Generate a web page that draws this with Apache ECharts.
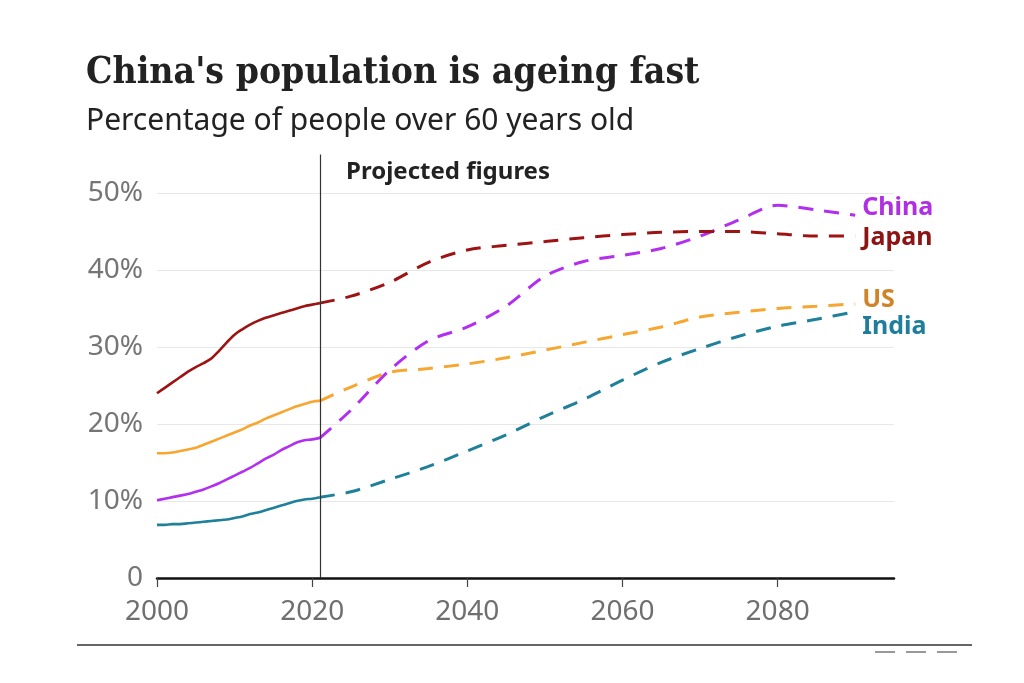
<!DOCTYPE html>
<html>
<head>
<meta charset="utf-8">
<script src="https://cdn.jsdelivr.net/npm/echarts@6/dist/echarts.min.js"></script>
<style>
html,body{margin:0;padding:0;background:#fff;}
#chart{width:1024px;height:683px;}
</style>
</head>
<body>
<div id="chart"></div>
<script>
// ---- data ----
const histYears = [2000,2001,2002,2003,2004,2005,2006,2007,2008,2009,2010,2011,2012,2013,2014,2015,2016,2017,2018,2019,2020,2021];
const chinaHist = [10.1,10.3,10.5,10.7,10.9,11.2,11.5,11.9,12.3,12.8,13.3,13.8,14.3,14.9,15.5,16.0,16.6,17.1,17.6,17.9,18.0,18.2];
const japanHist = [24.0,24.7,25.4,26.1,26.8,27.4,27.9,28.5,29.5,30.6,31.6,32.3,32.9,33.4,33.8,34.1,34.4,34.7,35.0,35.3,35.5,35.7];
const usHist    = [16.2,16.2,16.3,16.5,16.7,16.9,17.3,17.7,18.1,18.5,18.9,19.3,19.8,20.2,20.7,21.1,21.5,21.9,22.3,22.6,22.9,23.0];
const indiaHist = [6.9,6.9,7.0,7.0,7.1,7.2,7.3,7.4,7.5,7.6,7.8,8.0,8.3,8.5,8.8,9.1,9.4,9.7,10.0,10.2,10.3,10.5];

const projYears = [2021,2025,2030,2035,2040,2045,2050,2055,2060,2065,2070,2075,2080,2085,2090];
const chinaProj = [18.2,21.8,27.0,30.8,32.6,35.3,39.2,41.1,41.9,42.8,44.4,46.5,48.4,47.8,47.1];
const japanProj = [35.7,36.6,38.4,41.0,42.6,43.2,43.7,44.2,44.6,44.9,45.0,45.0,44.7,44.4,44.4];
const usProj    = [23.0,24.8,26.7,27.2,27.8,28.6,29.6,30.6,31.6,32.6,33.9,34.5,35.0,35.3,35.6];
const indiaProj = [10.5,11.2,12.8,14.5,16.5,18.6,21.0,23.2,25.7,28.0,29.8,31.4,32.7,33.6,34.6];

const xTicks = [2000,2020,2040,2060,2080];
const yTicks = [0,10,20,30,40,50];
const projectionStart = 2021;

const countries = ['China','Japan','US','India'];
// ---- styles ----
const lineColors  = {China:'#b22ff0', Japan:'#9d1313', US:'#f7a630', India:'#1f8099'};
const labelColors = {China:'#b02fe2', Japan:'#8c1414', US:'#d08428', India:'#1e7e9c'};
const labelOffsets = {China:[0,-7], Japan:[0,2], US:[0,-4], India:[0,15]};

const hist = {China:chinaHist, Japan:japanHist, US:usHist, India:indiaHist};
const proj = {China:chinaProj, Japan:japanProj, US:usProj, India:indiaProj};
const pairs = (xs, ys) => xs.map((x,i)=>[x, ys[i]]);

const series = [];
countries.forEach(c => {
  series.push({
    type:'line', name:c, data:pairs(histYears, hist[c]), smooth:0.3,
    symbol:'none', lineStyle:{color:lineColors[c], width:2.6}, z:3
  });
});
countries.forEach(c => {
  series.push({
    type:'line', name:c+' projected', data:pairs(projYears, proj[c]), smooth:0.3,
    symbol:'none', lineStyle:{color:lineColors[c], width:3, type:[15,11]}, z:3,
    endLabel:{show:true, formatter:c, color:labelColors[c], fontFamily:'Noto Sans',
      fontWeight:'bold', fontSize:25, distance:7, offset:labelOffsets[c]}
  });
});
series[0].markLine = {
  silent:true, symbol:'none', label:{show:false},
  lineStyle:{color:'#333', width:1.2, type:'solid'},
  data:[{xAxis:projectionStart}]
};

const chart = echarts.init(document.getElementById('chart'), null, {renderer:'canvas'});
chart.setOption({
  animation:false,
  backgroundColor:'#ffffff',
  title:[
    {text:"China's population is ageing fast", left:81, top:50,
     textStyle:{fontFamily:'DejaVu Serif Condensed, DejaVu Serif', fontWeight:'bold', fontSize:37, color:'#222'}},
    {text:'Percentage of people over 60 years old', left:81, top:101,
     textStyle:{fontFamily:'Noto Sans', fontWeight:'normal', fontSize:30, color:'#222'}},
    {text:'Projected figures', left:341, top:155,
     textStyle:{fontFamily:'Noto Sans', fontWeight:'bold', fontSize:24, color:'#222'}}
  ],
  grid:{left:157, right:130, top:154.5, bottom:105, containLabel:false},
  xAxis:{
    type:'value', min:2000, max:2095,
    axisLine:{show:true, lineStyle:{color:'#111', width:2.5}},
    axisTick:{show:true, customValues:xTicks, length:9, lineStyle:{color:'#444', width:1.2}},
    axisLabel:{customValues:xTicks, color:'#6f6f6f', fontFamily:'Noto Sans', fontSize:28, margin:20,
      formatter:v=>String(v)},
    splitLine:{show:false}
  },
  yAxis:{
    type:'value', min:0, max:55, interval:10,
    axisLine:{show:false}, axisTick:{show:false},
    axisLabel:{customValues:yTicks, color:'#757575', fontFamily:'Noto Sans', fontSize:28, margin:14,
      formatter:v=> v===0 ? '0' : v+'%'},
    splitLine:{show:true, showMaxLine:false, lineStyle:{color:'#e8e8e8', width:1.2}}
  },
  graphic:[
    {type:'line', shape:{x1:77, y1:645, x2:972, y2:645}, style:{stroke:'#666', lineWidth:2}},
    {type:'line', shape:{x1:875, y1:652, x2:895, y2:652}, style:{stroke:'#777', lineWidth:1.5}},
    {type:'line', shape:{x1:906, y1:652, x2:926, y2:652}, style:{stroke:'#777', lineWidth:1.5}},
    {type:'line', shape:{x1:937, y1:652, x2:957, y2:652}, style:{stroke:'#777', lineWidth:1.5}}
  ],
  series:series
});
</script>
</body>
</html>
